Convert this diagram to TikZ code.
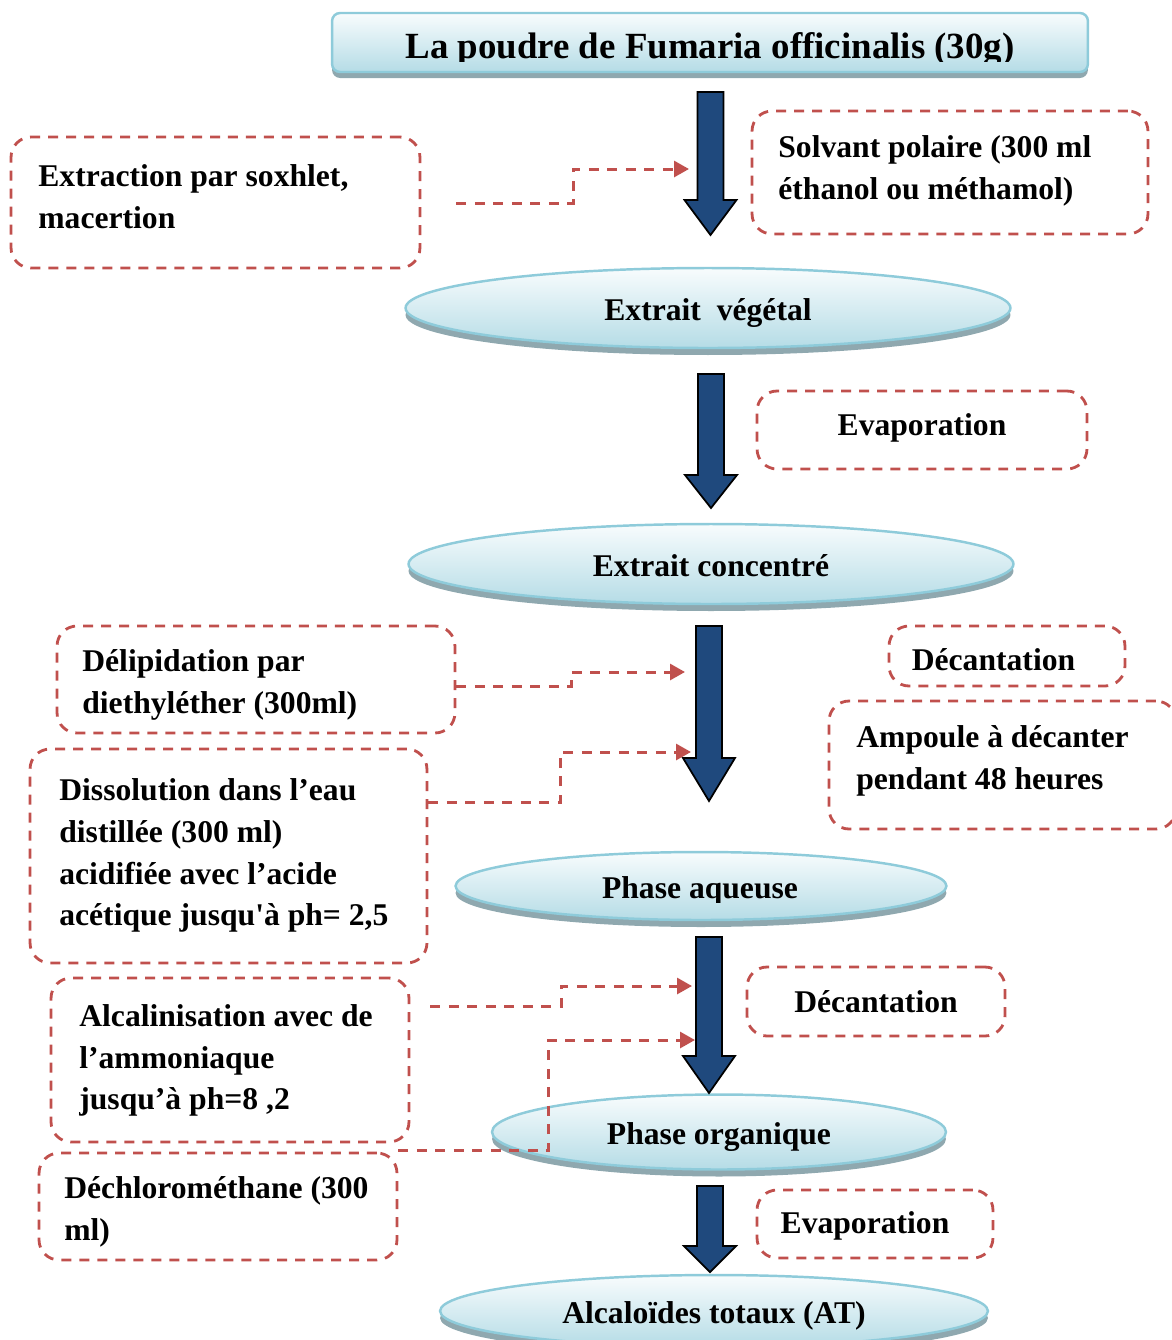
\documentclass[tikz,border=0pt]{standalone}
\usepackage{fontspec}
\setmainfont{Liberation Serif}
\usetikzlibrary{arrows.meta, calc, positioning, shapes.geometric, shadows}

\definecolor{boxred}{HTML}{C0504D}
\definecolor{navy}{HTML}{1F497D}
\definecolor{ovalline}{HTML}{8ECBDA}
\definecolor{ovaltop}{HTML}{F8FCFD}
\definecolor{ovalbot}{HTML}{B5DCE6}
\definecolor{ovalshadow}{HTML}{8FA8AF}

% grosse flèche : départ, pointe, longueur de la tête
\newcommand{\fatarrow}[3]{%
  \draw[fat] ($(#1)+(-13,0)$) -- ($(#1)+(13,0)$) -- ($(#2)+(13,-#3)$) -- ($(#2)+(26,-#3)$)
    -- (#2) -- ($(#2)+(-26,-#3)$) -- ($(#2)+(-13,-#3)$) -- cycle;}

\begin{document}
\begin{tikzpicture}[x=0.02cm, y=-0.02cm,
    txt/.style={font=\fontsize{18}{23.8}\selectfont\bfseries, align=left, inner sep=0},
    dbox/.style={draw=boxred, line width=1.6pt, dash pattern=on 0.2cm off 0.16cm, rounded corners=0.4cm},
    oval/.style={ellipse, draw=ovalline, line width=1.4pt, top color=ovaltop, bottom color=ovalbot, inner sep=0,
        font=\fontsize{18}{22}\selectfont\bfseries, text height=0.62cm, text depth=0.14cm,
        drop shadow={shadow xshift=0pt, shadow yshift=-0.14cm, fill=ovalshadow, opacity=1}},
    titlebox/.style={rectangle, rounded corners=0.16cm, draw=ovalline, line width=1.4pt, top color=ovaltop, bottom color=ovalbot,
        drop shadow={shadow xshift=0pt, shadow yshift=-0.12cm, fill=ovalshadow, opacity=1}},
    link/.style={draw=boxred, line width=1.7pt, dash pattern=on 0.2cm off 0.17cm, -{Triangle[length=0.3cm, width=0.32cm]}},
    fat/.style={fill=navy, draw=black, line width=1pt, line join=miter}]
    \clip (0,0) rectangle (1172,1340);

    % Titre
    \node[titlebox, minimum width=15.12cm, minimum height=1.18cm] (title) at (710,42.5) {};
    \begin{scope}
        \clip (332,13) rectangle (1088,61);
        \node[font=\fontsize{21}{26}\selectfont\bfseries, anchor=base] (titleT) at (710,58)
            {La poudre de Fumaria officinalis (30g)};
    \end{scope}

    % Ellipses
    \node[oval, minimum width=12.1cm, minimum height=1.6cm] (veg) at (708,308) {Extrait~ végétal};
    \node[oval, minimum width=12.1cm, minimum height=1.6cm] (conc) at (711,564) {Extrait concentré};
    \node[oval, minimum width=9.82cm, minimum height=1.36cm] (aq) at (701,886) {};
    \begin{scope}
        \clip (455,850) rectangle (948,902);
        \node[font=\fontsize{18}{22}\selectfont\bfseries, anchor=base] (aqT) at (700,898) {Phase aqueuse};
    \end{scope}
    \node[oval, minimum width=9.08cm, minimum height=1.5cm] (org) at (719,1132) {Phase organique};
    \node[oval, minimum width=10.96cm, minimum height=1.44cm] (alc) at (714,1311) {Alcaloïdes totaux (AT)};

    % Grosses flèches
    \coordinate (f1a) at (710.5,92);  \coordinate (f1b) at (710.5,235);
    \coordinate (f2a) at (711,374);   \coordinate (f2b) at (711,508);
    \coordinate (f3a) at (709,626);   \coordinate (f3b) at (709,801);
    \coordinate (f4a) at (709,937);   \coordinate (f4b) at (709,1093);
    \coordinate (f5a) at (710,1186);  \coordinate (f5b) at (710,1272);
    \fatarrow{f1a}{f1b}{35}
    \fatarrow{f2a}{f2b}{33}
    \fatarrow{f3a}{f3b}{43}
    \fatarrow{f4a}{f4b}{37}
    \fatarrow{f5a}{f5b}{26}

    % Boîtes en pointillés
    \node[dbox, minimum width=8.18cm, minimum height=2.62cm] (sox) at (215.5,202.5) {};
    \node[txt, anchor=west] (soxT) at (38,197) {Extraction par soxhlet,\\macertion};
    \node[dbox, minimum width=7.92cm, minimum height=2.46cm] (solv) at (950,172.5) {};
    \node[txt, anchor=west] (solvT) at (778,171) {Solvant polaire (300 ml\\éthanol ou méthamol)};
    \node[dbox, minimum width=6.6cm, minimum height=1.56cm] (evap1) at (922,430) {};
    \node[txt] (evap1T) at (922,428) {Evaporation};
    \node[dbox, minimum width=7.96cm, minimum height=2.14cm] (delip) at (256,679.5) {};
    \node[txt, anchor=west] (delipT) at (82,685) {Délipidation par\\diethyléther (300ml)};
    \node[dbox, minimum width=4.72cm, minimum height=1.2cm] (dec1) at (1007,656) {};
    \node[txt] (dec1T) at (993.5,660) {Décantation};
    \node[dbox, minimum width=6.94cm, minimum height=2.56cm] (amp) at (1002.5,765) {};
    \node[txt, anchor=west] (ampT) at (856,761) {Ampoule à décanter\\pendant 48 heures};
    \node[dbox, minimum width=7.94cm, minimum height=4.28cm] (diss) at (228.5,856) {};
    \node[txt, anchor=west] (dissT) at (59,855.5)
        {Dissolution dans l’eau\\distillée (300 ml)\\acidifiée avec l’acide\\acétique jusqu\textquotesingle à ph= 2,5};
    \node[dbox, minimum width=7.16cm, minimum height=3.28cm] (alca) at (230,1060) {};
    \node[txt, anchor=west] (alcaT) at (79,1060.5) {Alcalinisation avec de\\l’ammoniaque\\jusqu’à ph=8 ,2};
    \node[dbox, minimum width=5.16cm, minimum height=1.38cm] (dec2) at (876,1001.5) {};
    \node[txt] (dec2T) at (876,1002) {Décantation};
    \node[dbox, minimum width=7.16cm, minimum height=2.14cm] (dich) at (218,1206.5) {};
    \node[txt, anchor=west] (dichT) at (64,1212) {Déchlorométhane (300\\ml)};
    \node[dbox, minimum width=4.72cm, minimum height=1.36cm] (evap3) at (875,1224) {};
    \node[txt] (evap3T) at (865,1226) {Evaporation};

    % Liaisons en pointillés
    \coordinate (t1) at (689,169);
    \coordinate (t2) at (685,672);
    \coordinate (t3) at (691,752);
    \coordinate (t4) at (692,986);
    \coordinate (t5) at (695,1040);
    \draw[link] ($(sox.east)+(35,0.5)$) -- ++(117,0) |- (t1);
    \draw[link] ($(delip.east)+(0,6.5)$) -- ++(115,0) |- (t2);
    \draw[link] ($(diss.east)+(0,-54)$) -- ++(132,0) |- (t3);
    \draw[link] ($(alca.east)+(20,-54)$) -- ++(131,0) |- (t4);
    \draw[link] ($(dich.north east)+(0,-1)$) -- ++(150,0) |- (t5);
\end{tikzpicture}
\end{document}
